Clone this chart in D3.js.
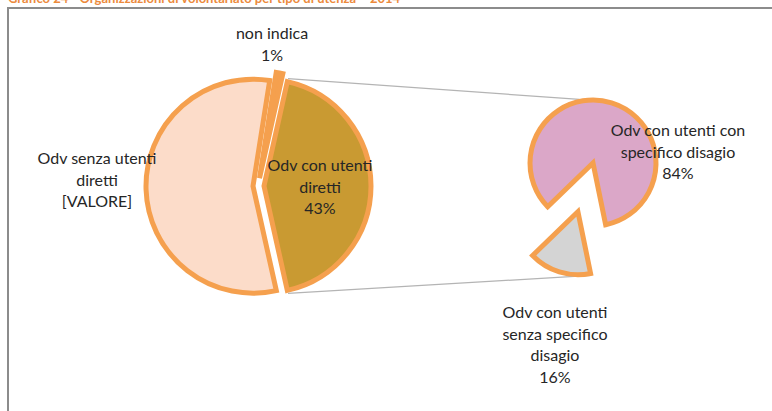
<!DOCTYPE html>
<html>
<head>
<meta charset="utf-8">
<script src="https://cdn.jsdelivr.net/npm/d3@7"></script>
<style>
  body { margin: 0; background: #fff; }
  svg { display: block; }
  text { font-family: Lato, "Open Sans", sans-serif; }
</style>
</head>
<body>
<div id="chart"></div>
<script>
'use strict';

// main pie: aggregated slice first (drawn on the right)
const mainNames  = ["Odv con utenti diretti", "Odv senza utenti diretti", "non indica"];
const mainValues = [43, 56, 1];
const mainLabels = [["Odv con utenti", "diretti", "43%"],
                    ["Odv senza utenti", "diretti", "[VALORE]"],
                    ["non indica", "1%"]];

// secondary pie: breakdown of "Odv con utenti diretti"
const subNames  = ["Odv con utenti con specifico disagio", "Odv con utenti senza specifico disagio"];
const subValues = [84, 16];
const subLabels = [["Odv con utenti con", "specifico disagio", "84%"],
                   ["Odv con utenti", "senza specifico", "disagio", "16%"]];

const titleText = "Grafico 24 - Organizzazioni di volontariato per tipo di utenza \u2013 2014";

const width = 772, height = 411;
const deg = Math.PI / 180;

const svg = d3.select("#chart").append("svg")
    .attr("width", width)
    .attr("height", height);

// title (cut off at the top in the source)
svg.append("text")
    .attr("x", 8).attr("y", 3)
    .attr("fill", "#ec8a3c")
    .attr("font-size", 13)
    .attr("font-weight", "bold")
    .text(titleText);

// chart frame
svg.append("rect")
    .attr("x", 8).attr("y", 8)
    .attr("width", 770).attr("height", 420)
    .attr("fill", "none")
    .attr("stroke", "#8c8c8c")
    .attr("stroke-width", 2);

const strokeColor = "#f5a04e";
const mainColors = d3.scaleOrdinal().domain(mainNames).range(["#c99a32", "#fcdcc9", "#f5a04e"]);
const subColors  = d3.scaleOrdinal().domain(subNames).range(["#dba7c8", "#d4d4d4"]);

// main pie geometry
const c1 = {x: 258, y: 186}, r1 = 107;
const mainExplode = [6, 5, 8];
const startMain = (90 - mainValues[0] / 100 * 180) * deg;
const mainArcs = d3.pie().sort(null)
    .startAngle(startMain).endAngle(startMain + 2 * Math.PI)(mainValues);

// secondary pie geometry
const c2 = {x: 593, y: 163}, r2 = 63;
const subExplode = [0, 51];
const startSub = -134 * deg;
const subArcs = d3.pie().sort(null)
    .startAngle(startSub).endAngle(startSub + 2 * Math.PI)(subValues);

const arc1 = d3.arc().innerRadius(0).outerRadius(r1);
const arc2 = d3.arc().innerRadius(0).outerRadius(r2);

function offset(d, dist) {
    const a = (d.startAngle + d.endAngle) / 2;
    return [dist * Math.sin(a), -dist * Math.cos(a)];
}
function pointAt(c, r, a, off) {
    return [c.x + off[0] + r * Math.sin(a), c.y + off[1] - r * Math.cos(a)];
}

// connector lines between the aggregated slice and the secondary pie
const agg = mainArcs[0];
const aggOff = offset(agg, mainExplode[0]);
const greyOff = offset(subArcs[1], subExplode[1]);
const lines = [
    [pointAt(c1, r1 + 3, agg.startAngle, aggOff), pointAt(c2, r2 + 2, -12 * deg, [0, 0])],
    [pointAt(c1, r1 + 3, agg.endAngle, aggOff), pointAt(c2, r2 + 2, subArcs[1].startAngle, greyOff)]
];
svg.selectAll("line.conn").data(lines).enter().append("line")
    .attr("class", "conn")
    .attr("x1", d => d[0][0]).attr("y1", d => d[0][1])
    .attr("x2", d => d[1][0]).attr("y2", d => d[1][1])
    .attr("stroke", "#b4b4b4")
    .attr("stroke-width", 1.3);

// slices
svg.append("g").selectAll("path").data(mainArcs).enter().append("path")
    .attr("d", arc1)
    .attr("transform", (d, i) => {
        const o = offset(d, mainExplode[i]);
        return `translate(${c1.x + o[0]},${c1.y + o[1]})`;
    })
    .attr("fill", (d, i) => mainColors(mainNames[i]))
    .attr("stroke", strokeColor)
    .attr("stroke-width", 5)
    .attr("stroke-linejoin", "miter");

svg.append("g").selectAll("path").data(subArcs).enter().append("path")
    .attr("d", arc2)
    .attr("transform", (d, i) => {
        const o = offset(d, subExplode[i]);
        return `translate(${c2.x + o[0]},${c2.y + o[1]})`;
    })
    .attr("fill", (d, i) => subColors(subNames[i]))
    .attr("stroke", strokeColor)
    .attr("stroke-width", 5);

// labels
const labelPos = [
    {lines: mainLabels[0], x: 320, y: 171},
    {lines: mainLabels[1], x: 97, y: 164},
    {lines: mainLabels[2], x: 272, y: 39},
    {lines: subLabels[0], x: 678, y: 136},
    {lines: subLabels[1], x: 555, y: 318}
];
const lineH = 21.5;
const lbl = svg.append("g").selectAll("text").data(labelPos).enter().append("text")
    .attr("text-anchor", "middle")
    .attr("font-size", 16)
    .attr("fill", "#262626");
lbl.selectAll("tspan").data(d => d.lines.map((t, i) => ({t, i, x: d.x, y: d.y}))).enter()
    .append("tspan")
    .attr("x", d => d.x)
    .attr("y", d => d.y + d.i * lineH)
    .text(d => d.t);
</script>
</body>
</html>
